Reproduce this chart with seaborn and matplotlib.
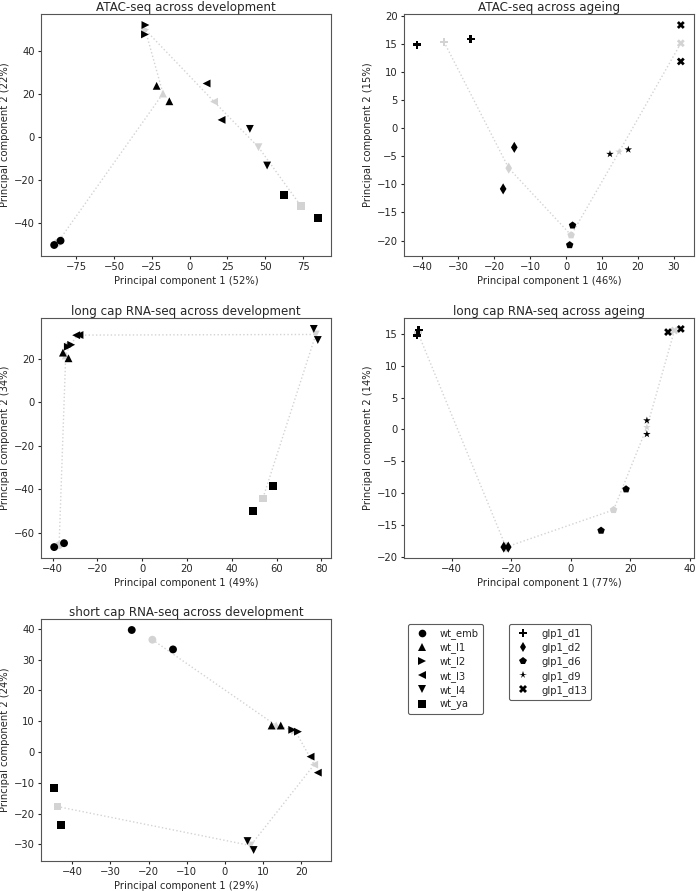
import matplotlib
matplotlib.use("Agg")
import matplotlib.pyplot as plt
from matplotlib.lines import Line2D
import seaborn as sns
import pandas as pd

sns.set_style("ticks")
plt.rcParams['font.family'] = ['DejaVu Sans']

# ---- groups / markers ----
dev_groups = ["wt_emb", "wt_l1", "wt_l2", "wt_l3", "wt_l4", "wt_ya"]
dev_markers = ["o", "^", ">", "<", "v", "s"]
age_groups = ["glp1_d1", "glp1_d2", "glp1_d6", "glp1_d9", "glp1_d13"]
age_markers = ["P", "d", "p", "*", "X"]

# ---- ATAC-seq across development (two replicates per group) ----
atac_dev_x = [-89.5, -85.3, -21.8, -13.4, -29.2, -29.5, 11.2, 21.1, 39.8, 51.2, 62.5, 84.7]
atac_dev_y = [-50.5, -48.5, 23.8, 16.6, 52.2, 47.8, 24.9, 7.9, 3.7, -13.4, -27.0, -37.7]

# ---- ATAC-seq across ageing ----
atac_age_x = [-41.4, -26.5, -14.4, -17.5, 1.8, 1.0, 12.2, 17.3, 31.9, 31.9]
atac_age_y = [14.9, 15.9, -3.4, -10.8, -17.3, -20.8, -4.6, -3.8, 18.4, 11.9]

# ---- long cap RNA-seq across development ----
lcap_dev_x = [-39.3, -34.9, -35.4, -32.9, -33.2, -31.7, -29.5, -28.0, 76.6, 78.4, 58.4, 49.3]
lcap_dev_y = [-66.5, -64.7, 22.9, 20.3, 25.6, 26.5, 30.9, 31.0, 33.8, 28.7, -38.3, -50.0]

# ---- long cap RNA-seq across ageing ----
lcap_age_x = [-51.6, -51.1, -22.5, -21.0, 10.2, 18.6, 25.6, 25.6, 32.7, 37.0]
lcap_age_y = [14.8, 15.6, -18.5, -18.5, -15.9, -9.4, 1.4, -0.75, 15.3, 15.8]

# ---- short cap RNA-seq across development ----
scap_dev_x = [-24.4, -13.6, 12.2, 14.6, 17.6, 19.1, 22.4, 24.3, 5.9, 7.5, -44.7, -43.0]
scap_dev_y = [39.6, 33.3, 8.6, 8.6, 7.2, 6.6, -1.5, -6.7, -28.9, -31.8, -11.8, -23.6]

panels = [
    ("ATAC-seq across development", atac_dev_x, atac_dev_y, "dev", "52%", "22%"),
    ("ATAC-seq across ageing", atac_age_x, atac_age_y, "age", "46%", "15%"),
    ("long cap RNA-seq across development", lcap_dev_x, lcap_dev_y, "dev", "49%", "34%"),
    ("long cap RNA-seq across ageing", lcap_age_x, lcap_age_y, "age", "77%", "14%"),
    ("short cap RNA-seq across development", scap_dev_x, scap_dev_y, "dev", "29%", "24%"),
]

W, H = 697, 891
fig = plt.figure(figsize=(W / 100, H / 100), dpi=100)

cols = [(41, 331), (404, 694)]
rows = [(14, 256), (318, 558), (619, 861)]

def make_ax(r, c):
    x0, x1 = cols[c]
    y0, y1 = rows[r]
    return fig.add_axes([x0 / W, 1 - y1 / H, (x1 - x0) / W, (y1 - y0) / H])

fs = 7.2
gray = "#d3d3d3"
txt = "#262626"

for i, (title, xs, ys, kind, p1, p2) in enumerate(panels):
    ax = make_ax(i // 2, i % 2)
    groups = dev_groups if kind == "dev" else age_groups
    markers = dev_markers if kind == "dev" else age_markers
    mdict = dict(zip(groups, markers))
    labels = [g for g in groups for _ in range(2)]
    df = pd.DataFrame({"x": xs, "y": ys, "group": labels})
    means = df.groupby("group", sort=False)[["x", "y"]].mean().reset_index()
    ax.plot(means["x"], means["y"], linestyle=":", color=gray, linewidth=1.0, zorder=1)
    sns.scatterplot(data=means, x="x", y="y", style="group", markers=mdict,
                    color=gray, s=32, linewidth=0, legend=False, ax=ax, zorder=2)
    sns.scatterplot(data=df, x="x", y="y", style="group", markers=mdict,
                    color="black", s=32, linewidth=0, legend=False, ax=ax, zorder=3)
    ax.set_title(title, fontsize=8.6, pad=2.5, color=txt)
    ax.set_xlabel(f"Principal component 1 ({p1})", fontsize=fs, labelpad=2.5, color=txt)
    ax.set_ylabel(f"Principal component 2 ({p2})", fontsize=fs, labelpad=2.5, color=txt)
    ax.tick_params(labelsize=fs, length=2.4, width=0.8, pad=2.0, colors=txt)
    for s in ax.spines.values():
        s.set_linewidth(0.8)
        s.set_color("#555555")

# legends in the empty slot
def handles(markers):
    return [Line2D([], [], linestyle="none", marker=m, color="black",
                   markersize=5.5, markeredgewidth=0) for m in markers]

leg1 = fig.legend(handles(dev_markers), dev_groups,
                  loc="upper left", bbox_to_anchor=(408 / W, 1 - 624 / H),
                  borderaxespad=0, fontsize=fs, frameon=True, handletextpad=0.8,
                  labelspacing=0.33)
leg2 = fig.legend(handles(age_markers), age_groups,
                  loc="upper left", bbox_to_anchor=(509 / W, 1 - 624 / H),
                  borderaxespad=0, fontsize=fs, frameon=True, handletextpad=0.8,
                  labelspacing=0.33)
for lg in (leg1, leg2):
    lg.get_frame().set_edgecolor("#333333")
    lg.get_frame().set_linewidth(0.8)
    for t in lg.get_texts():
        t.set_color(txt)

fig.savefig("out.png", dpi=100)
